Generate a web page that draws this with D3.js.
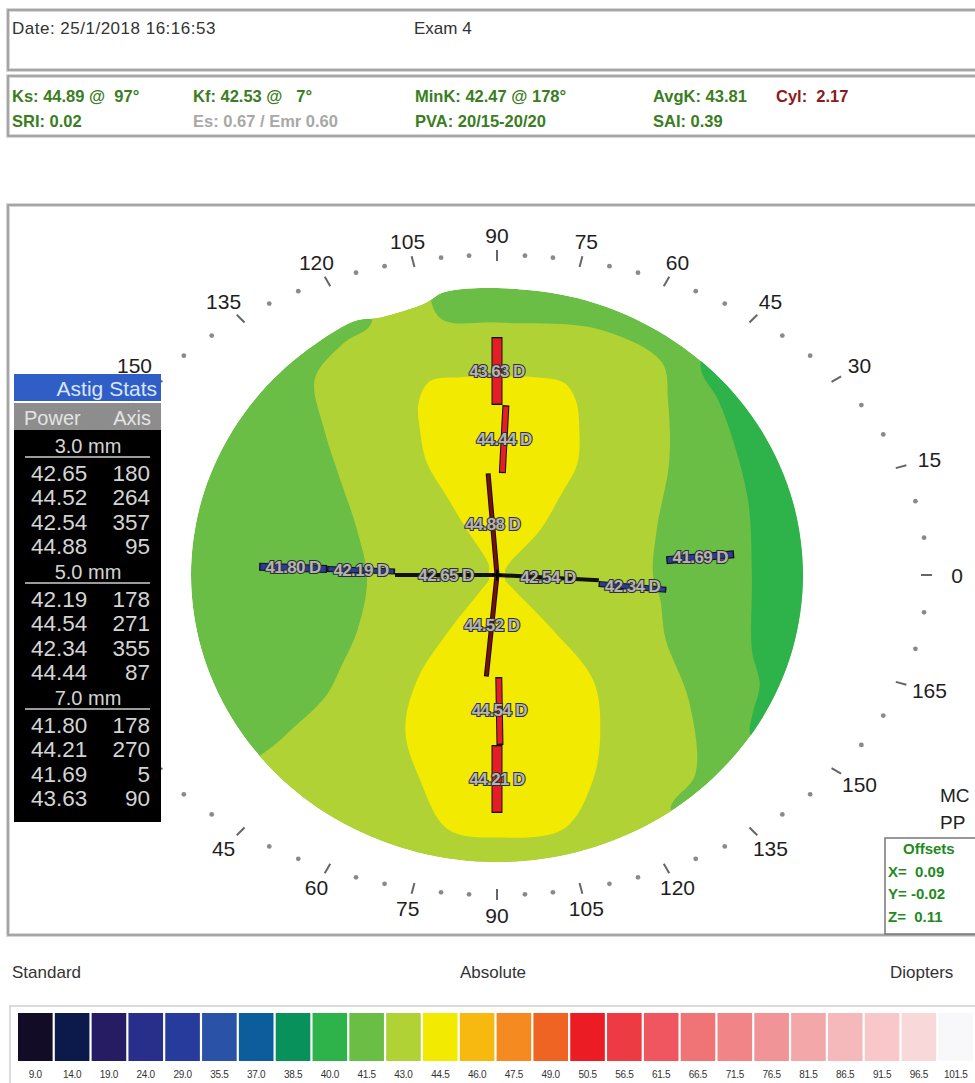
<!DOCTYPE html>
<html>
<head>
<meta charset="utf-8">
<script src="https://cdn.jsdelivr.net/npm/d3@7"></script>
<style>
  body { margin: 0; background: #fff; }
  svg { display: block; font-family: "Liberation Sans", Arial, sans-serif; }
</style>
</head>
<body>
<div id="chart"></div>
<script>
'use strict';

// ---- header values
const examDate = 'Date: 25/1/2018 16:16:53';
const examName = 'Exam 4';
const kRow1 = ['Ks: 44.89 @\u00a0 97°', 'Kf: 42.53 @\u00a0\u00a0 7°', 'MinK: 42.47 @ 178°', 'AvgK: 43.81', 'Cyl:\u00a0 2.17'];
const kRow2 = ['SRI: 0.02', 'Es: 0.67 / Emr 0.60', 'PVA: 20/15-20/20', 'SAI: 0.39'];

// ---- astig stats (power, axis) per zone
const zoneNames = ['3.0 mm', '5.0 mm', '7.0 mm'];
const zoneRadius = [[0, 1.5], [1.5, 2.5], [2.5, 3.5]]; // mm
const zonePowers = [[42.65, 44.52, 42.54, 44.88], [42.19, 44.54, 42.34, 44.44], [41.80, 44.21, 41.69, 43.63]];
const zoneAxes = [[180, 264, 357, 95], [178, 271, 355, 87], [178, 270, 5, 90]];

// ---- colour scale
const scaleLabels = ['9.0', '14.0', '19.0', '24.0', '29.0', '35.5', '37.0', '38.5', '40.0', '41.5', '43.0', '44.5', '46.0',
  '47.5', '49.0', '50.5', '56.5', '61.5', '66.5', '71.5', '76.5', '81.5', '86.5', '91.5', '96.5', '101.5'];
const scaleColors = ['#130c27', '#0c1a4b', '#251c63', '#272f8b', '#263b9b', '#2a52a6', '#0b5d9b', '#08915b', '#2db34a',
  '#6abd45', '#b1d235', '#f2ea00', '#f7b90f', '#f58a20', '#f06423', '#ec1c24', '#ee3a43', '#ef5660', '#f07476',
  '#f08486', '#f19497', '#f3a7a9', '#f5b8bb', '#f8c7c9', '#f9d8d9', '#f8f8fb'];

// ---- isopower zones: [angle deg, radius as fraction of the map]
const diskEdge = [[0, 1], [15, 1], [30, 1], [45, 1], [60, 1], [75, 1], [90, 1], [100, 1], [104, 0.975], [113, 0.975],
  [118, 1], [135, 1], [150, 1], [165, 1], [180, 1], [195, 1], [210, 1], [225, 1], [240, 1], [255, 1], [270, 1],
  [285, 1], [300, 1], [315, 1], [330, 1], [345, 1]];
const zone400 = [[50, 1.2], [47.8, 0.99], [40, 0.945], [33.6, 0.913], [17.7, 0.861], [0, 0.833], [-17.4, 0.873],
  [-24, 0.94], [-30, 0.965], [-34, 1.0], [-36, 1.2], [-10, 1.3], [20, 1.3]];
const zone430 = [[0, 0.51], [17, 0.546], [35, 0.687], [47.5, 0.827], [54, 0.916], [69, 0.918], [90, 0.88], [101.7, 0.914],
  [103.5, 1.15], [113, 1.15], [115, 0.97], [122, 0.95], [131, 0.907], [138, 0.761], [147, 0.611], [161, 0.484],
  [182, 0.425], [203, 0.496], [212, 0.6], [217, 0.7], [219, 0.9], [221, 1.15], [260, 1.15], [303, 1.15],
  [305, 0.99], [313, 0.95], [325, 0.766], [338, 0.594], [351, 0.54]];
const zone445 = [[0, 0.03], [30, 0.03], [46, 0.06], [48, 0.21], [53, 0.34], [56, 0.47], [62, 0.573], [67, 0.66],
  [72, 0.705], [80, 0.7], [90, 0.69], [100, 0.7], [108, 0.71], [113, 0.655], [116.5, 0.564], [120.4, 0.452],
  [121, 0.317], [122, 0.185], [125, 0.05], [150, 0.03], [180, 0.03], [210, 0.03], [226, 0.08], [231, 0.246],
  [234.5, 0.45], [241, 0.618], [250.6, 0.757], [259.7, 0.9], [270, 0.915], [284, 0.91], [293.7, 0.78],
  [302, 0.637], [310.6, 0.484], [313.6, 0.265], [317, 0.08], [330, 0.03]];
const zoneLayers = [['41.5', diskEdge], ['40.0', zone400], ['43.0', zone430], ['44.5', zone445]];

// ring labels covered by the stats panel
const hiddenRingLabels = [165, 180, 195, 210];

// ---- offsets box
const offsetRows = ['Offsets', 'X=\u00a0 0.09', 'Y= -0.02', 'Z=\u00a0 0.11'];

const width = 975;
const height = 1083;
const cx = 497;
const cy = 575;
const rad = Math.PI / 180;

const svg = d3.select('#chart').append('svg')
  .attr('width', width)
  .attr('height', height);

const color = d3.scaleOrdinal().domain(scaleLabels).range(scaleColors);

// ---- header boxes
function frame(x, y, w, h) {
  svg.append('rect').attr('x', x).attr('y', y).attr('width', w).attr('height', h)
    .attr('fill', 'none').attr('stroke', '#d6d6d6').attr('stroke-width', 4);
  svg.append('rect').attr('x', x).attr('y', y).attr('width', w).attr('height', h)
    .attr('fill', 'none').attr('stroke', '#8c8c8c').attr('stroke-width', 1.3);
}
frame(8, 10, 1000, 60);
frame(8, 76, 1000, 60);
frame(8, 205, 1000, 730);

svg.append('text').attr('x', 12).attr('y', 34).attr('font-size', 17).attr('fill', '#333')
  .attr('letter-spacing', 0.5).text(examDate);
svg.append('text').attr('x', 414).attr('y', 34).attr('font-size', 17).attr('fill', '#333').text(examName);

const kCols = [12, 193, 415, 653, 776];
const kText = svg.append('g').attr('font-weight', 'bold').attr('font-size', 16.5).attr('letter-spacing', 0);
kText.selectAll('.k1').data(kRow1).join('text')
  .attr('x', (d, i) => kCols[i]).attr('y', 102)
  .attr('fill', (d, i) => i === 4 ? '#8c1a1a' : '#3a7d22')
  .text(d => d);
kText.selectAll('.k2').data(kRow2).join('text')
  .attr('x', (d, i) => kCols[i]).attr('y', 127)
  .attr('fill', (d, i) => i === 1 ? '#a8a8a8' : '#3a7d22')
  .text(d => d);

// ---- map scales
const mapX = d3.scaleLinear().domain([-1, 1]).range([cx - 306, cx + 306]);
const mapY = d3.scaleLinear().domain([-1, 1]).range([cy + 287, cy - 287]);
const mmX = d3.scaleLinear().domain([-1, 1]).range([cx - 68, cx + 68]);
const mmY = d3.scaleLinear().domain([-1, 1]).range([cy + 68, cy - 68]);

const polar = d => [mapX(d[1] * Math.cos(d[0] * rad)), mapY(d[1] * Math.sin(d[0] * rad))];
const contour = d3.line().curve(d3.curveCatmullRomClosed.alpha(0.5));

svg.append('clipPath').attr('id', 'disk-clip')
  .append('path').attr('d', contour(diskEdge.map(polar)));

const map = svg.append('g').attr('clip-path', 'url(#disk-clip)');
map.selectAll('path').data(zoneLayers).join('path')
  .attr('d', d => contour(d[1].map(polar)))
  .attr('fill', d => color(d[0]));

// ---- degree ring (ellipse)
const ringRx = 430, ringRy = 320, labelRx = 460, labelRy = 340;
function onEllipse(a, rx, ry, extra) {
  const c = Math.cos(a * rad), s = Math.sin(a * rad);
  const r = 1 / Math.sqrt(c * c / (rx * rx) + s * s / (ry * ry)) + (extra || 0);
  return [cx + r * c, cy - r * s];
}
const ringAngles = d3.range(0, 360, 5);
const ring = svg.append('g');
ring.selectAll('circle').data(ringAngles.filter(a => a % 15 !== 0)).join('circle')
  .attr('cx', a => onEllipse(a, ringRx, ringRy)[0])
  .attr('cy', a => onEllipse(a, ringRx, ringRy)[1])
  .attr('r', 2.4)
  .attr('fill', '#8a8a8a');
ring.selectAll('line').data(ringAngles.filter(a => a % 15 === 0)).join('line')
  .attr('x1', a => onEllipse(a, ringRx, ringRy, -6)[0])
  .attr('y1', a => onEllipse(a, ringRx, ringRy, -6)[1])
  .attr('x2', a => onEllipse(a, ringRx, ringRy, 5)[0])
  .attr('y2', a => onEllipse(a, ringRx, ringRy, 5)[1])
  .attr('stroke', '#666').attr('stroke-width', 2);
ring.selectAll('text')
  .data(ringAngles.filter(a => a % 15 === 0 && !hiddenRingLabels.includes(a)))
  .join('text')
  .attr('x', a => onEllipse(a, labelRx, labelRy)[0])
  .attr('y', a => onEllipse(a, labelRx, labelRy)[1])
  .attr('text-anchor', 'middle').attr('dominant-baseline', 'central')
  .attr('font-size', 21).attr('fill', '#1e1e1e')
  .text(a => a % 180);

// ---- semi-meridian markers
const markers = [];
zonePowers.forEach((row, i) => {
  const mean = d3.mean(row);
  row.forEach((p, k) => {
    markers.push({ zone: i, power: p, axis: zoneAxes[i][k], steep: p > mean, r0: zoneRadius[i][0], r1: zoneRadius[i][1] });
  });
});
const steepWidth = [3, 5, 9], flatWidth = [2, 4, 6];
const steepColor = ['#7d0c0c', '#e41e26', '#e41e26'], flatColor = ['#111', '#2a3b9a', '#2a3b9a'];
const mmPoint = (r, a) => [mmX(r * Math.cos(a * rad)), mmY(r * Math.sin(a * rad))];

const mer = svg.append('g');
mer.selectAll('.outline').data(markers).join('line').attr('class', 'outline')
  .attr('x1', d => mmPoint(d.r0, d.axis)[0]).attr('y1', d => mmPoint(d.r0, d.axis)[1])
  .attr('x2', d => mmPoint(d.r1, d.axis)[0]).attr('y2', d => mmPoint(d.r1, d.axis)[1])
  .attr('stroke', '#111')
  .attr('stroke-width', d => (d.steep ? steepWidth[d.zone] : flatWidth[d.zone]) + 2);
mer.selectAll('.fillline').data(markers).join('line').attr('class', 'fillline')
  .attr('x1', d => mmPoint(d.r0 + 0.02, d.axis)[0]).attr('y1', d => mmPoint(d.r0 + 0.02, d.axis)[1])
  .attr('x2', d => mmPoint(d.r1 - 0.02, d.axis)[0]).attr('y2', d => mmPoint(d.r1 - 0.02, d.axis)[1])
  .attr('stroke', d => d.steep ? steepColor[d.zone] : flatColor[d.zone])
  .attr('stroke-width', d => d.steep ? steepWidth[d.zone] : flatWidth[d.zone]);
mer.append('path')
  .attr('d', `M${mmX(-0.08)},${cy}H${mmX(0.08)}M${cx},${mmY(-0.08)}V${mmY(0.08)}`)
  .attr('stroke', '#000').attr('stroke-width', 2);
mer.selectAll('text').data(markers).join('text')
  .attr('x', d => mmPoint((d.r0 + d.r1) / 2, d.axis)[0])
  .attr('y', d => mmPoint((d.r0 + d.r1) / 2, d.axis)[1])
  .attr('text-anchor', 'middle').attr('dominant-baseline', 'central')
  .attr('font-size', 17).attr('font-weight', 'bold').attr('letter-spacing', -0.6)
  .attr('fill', '#b4b4b4').attr('stroke', '#303030').attr('stroke-width', 2)
  .attr('paint-order', 'stroke')
  .text(d => d.power.toFixed(2) + ' D');

// ---- astig stats panel
const panel = svg.append('g');
panel.append('rect').attr('x', 14).attr('y', 374).attr('width', 147).attr('height', 27).attr('fill', '#2f5ec6');
panel.append('text').attr('x', 157).attr('y', 396).attr('text-anchor', 'end')
  .attr('font-size', 21).attr('fill', '#d9e5ff').text('Astig Stats');
panel.append('rect').attr('x', 14).attr('y', 403).attr('width', 147).attr('height', 27).attr('fill', '#8d8d8d');
panel.append('text').attr('x', 24).attr('y', 425).attr('font-size', 20).attr('fill', '#e4e4e4').text('Power');
panel.append('text').attr('x', 151).attr('y', 425).attr('text-anchor', 'end').attr('font-size', 20)
  .attr('fill', '#e4e4e4').text('Axis');
panel.append('rect').attr('x', 14).attr('y', 430).attr('width', 147).attr('height', 392).attr('fill', '#000');

const blockY = d3.scaleLinear().domain([0, 1]).range([453, 579]);
zoneNames.forEach((name, i) => {
  const y0 = blockY(i);
  panel.append('text').attr('x', 88).attr('y', y0).attr('text-anchor', 'middle')
    .attr('font-size', 20).attr('fill', '#d4d4d4').text(name);
  panel.append('line').attr('x1', 25).attr('x2', 150).attr('y1', y0 + 4).attr('y2', y0 + 4)
    .attr('stroke', '#cfcfcf').attr('stroke-width', 1.5);
  zonePowers[i].forEach((p, k) => {
    const y = y0 + 28 + k * 24.4;
    panel.append('text').attr('x', 31).attr('y', y).attr('font-size', 22.5).attr('fill', '#d4d4d4')
      .text(p.toFixed(2));
    panel.append('text').attr('x', 150).attr('y', y).attr('text-anchor', 'end').attr('font-size', 22.5)
      .attr('fill', '#d4d4d4').text(zoneAxes[i][k]);
  });
});

// ---- right side texts
svg.append('text').attr('x', 940).attr('y', 802).attr('font-size', 19).attr('fill', '#222').text('MC');
svg.append('text').attr('x', 940).attr('y', 829).attr('font-size', 19).attr('fill', '#222').text('PP');
svg.append('rect').attr('x', 885).attr('y', 838).attr('width', 120).attr('height', 96)
  .attr('fill', '#fff').attr('stroke', '#777').attr('stroke-width', 1.5);
svg.append('g').selectAll('text').data(offsetRows).join('text')
  .attr('x', (d, i) => i === 0 ? 903 : 888)
  .attr('y', (d, i) => 854 + i * 22.5)
  .attr('font-size', 15).attr('font-weight', 'bold').attr('fill', '#1f8a1f')
  .text(d => d);

// ---- bottom legend
svg.append('text').attr('x', 12).attr('y', 978).attr('font-size', 17).attr('fill', '#333').text('Standard');
svg.append('text').attr('x', 493).attr('y', 978).attr('text-anchor', 'middle').attr('font-size', 17)
  .attr('fill', '#333').text('Absolute');
svg.append('text').attr('x', 890).attr('y', 978).attr('font-size', 17).attr('fill', '#333').text('Diopters');

svg.append('rect').attr('x', 10).attr('y', 1006).attr('width', 1000).attr('height', 90)
  .attr('fill', 'none').attr('stroke', '#d0d0d0').attr('stroke-width', 1.5);
const band = d3.scaleBand().domain(scaleLabels).range([18, 973]).paddingInner(0.06);
svg.append('g').selectAll('rect').data(scaleLabels).join('rect')
  .attr('x', d => band(d)).attr('y', 1013)
  .attr('width', band.bandwidth()).attr('height', 48)
  .attr('fill', d => color(d));
svg.append('g').selectAll('text').data(scaleLabels).join('text')
  .attr('x', d => band(d) + band.bandwidth() / 2).attr('y', 1078)
  .attr('text-anchor', 'middle').attr('font-size', 10).attr('fill', '#333').attr('letter-spacing', -0.3)
  .text(d => d);
</script>
</body>
</html>
